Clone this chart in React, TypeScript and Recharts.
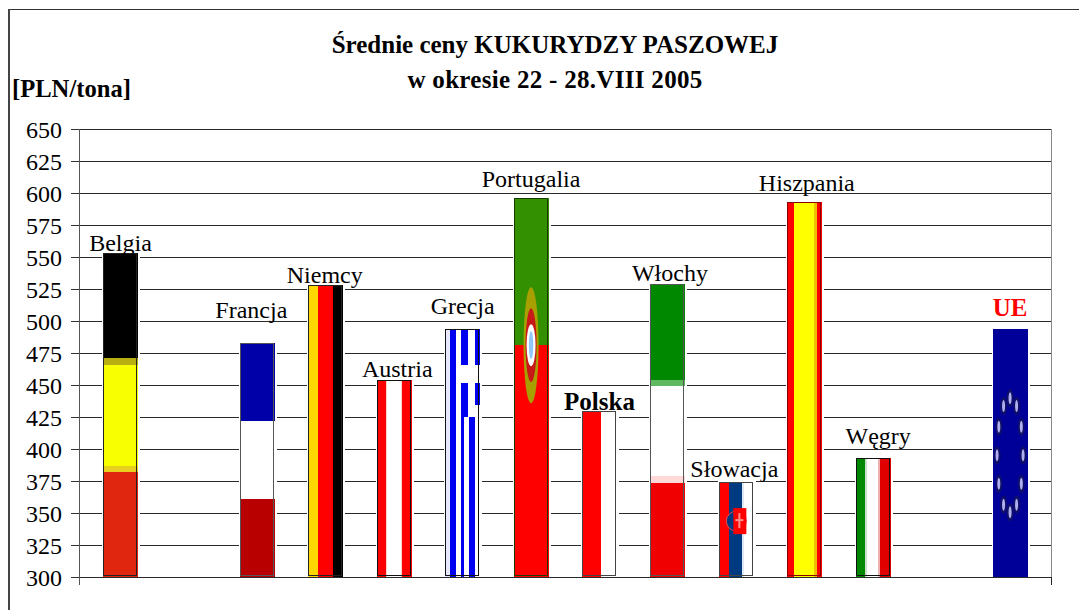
import React from 'react'
import { BarChart, Bar, XAxis, YAxis, CartesianGrid, LabelList, usePlotArea } from 'recharts'

const FONT = '"Liberation Serif", "Times New Roman", serif'

// empty strings keep the two gaps the original chart has (after Belgia, before UE)
const countries = ['Belgia', ' ', 'Francja', 'Niemcy', 'Austria', 'Grecja', 'Portugalia', 'Polska', 'Włochy', 'Słowacja', 'Hiszpania', 'Węgry', '  ', 'UE']
const prices = [553, null, 483, 528, 454, 494, 596, 430, 529, 374, 593, 393, null, 494]
const yTicks = [300, 325, 350, 375, 400, 425, 450, 475, 500, 525, 550, 575, 600, 625, 650]

const data = countries.map((name, i) => ({ name, price: prices[i] }))

// flag look per country: direction of the stripes, then [colour, where the stripe ends]
const flags: Record<string, any> = {
  Belgia: { dir: 'h', outline: '#222', bands: [['#000', 0.324], ['#b8b010', 0.346], ['#f8ff00', 0.657], ['#e8d020', 0.676], ['#e0260f', 1]] },
  Francja: { dir: 'h', outline: '#555', bands: [['#0000a8', 0.336], ['#fff', 0.668], ['#b80000', 1]] },
  Niemcy: { dir: 'v', outline: '#222', bands: [['#ffd700', 0.29], ['#ff0000', 0.72], ['#000', 1]] },
  Austria: { dir: 'v', outline: '#111', bands: [['#ff0000', 0.27], ['#ffd0d0', 0.3], ['#fff', 0.68], ['#ffd0d0', 0.71], ['#ff0000', 1]] },
  Grecja: { dir: 'v', outline: '#111', bands: [['#e8e8ff', 0.14], ['#0000f0', 0.31], ['#fff', 0.46], ['#0000f0', 0.66], ['#fff', 0.86], ['#0000f0', 1]] },
  Portugalia: { dir: 'h', outline: '#1a3a00', bands: [['#339000', 0.388], ['#ff0000', 1]] },
  Polska: { dir: 'v', outline: '#444', bands: [['#ff0000', 0.55], ['#fff', 1]] },
  'Włochy': { dir: 'h', outline: '#555', bands: [['#008800', 0.329], ['#60b860', 0.349], ['#fff', 0.655], ['#ffd8d8', 0.68], ['#f00000', 1]] },
  'Słowacja': { dir: 'v', outline: '#444', bands: [['#ff0000', 0.3], ['#003a80', 0.66], ['#dfe8f4', 0.72], ['#fff', 1]] },
  Hiszpania: { dir: 'v', outline: '#8a0000', bands: [['#ff0000', 0.2], ['#ffff00', 0.76], ['#f0c000', 0.86], ['#ff0000', 1]] },
  'Węgry': { dir: 'v', outline: '#111', bands: [['#008800', 0.27], ['#c8e0c8', 0.33], ['#fff', 0.65], ['#f0b0b0', 0.69], ['#e00000', 1]] },
  UE: { dir: 'h', bands: [['#000099', 1]] },
}

// labels were placed by hand in the original, so each has its own nudge
const labelNudge: Record<string, [number, number]> = {
  Belgia: [0, 2],
  Francja: [-6, -21],
  Niemcy: [-1, 2],
  Austria: [3, 1],
  Grecja: [0, -11],
  Portugalia: [0, -7],
  Polska: [0, 3],
  'Włochy': [2, 1],
  'Słowacja': [-2, -1],
  Hiszpania: [2, -7],
  'Węgry': [5, -10],
  UE: [0, -9],
}

function GreekCross({ x, y, w, h }: any) {
  const rx = x + w * 0.45
  const rw = w * 0.55
  return (
    <g>
      <rect x={rx} y={y + h * 0.145} width={rw} height={h * 0.075} fill="#fff" />
      <rect x={x + w * 0.66} y={y + h * 0.306} width={w * 0.34} height={h * 0.05} fill="#fff" />
      <rect x={rx} y={y + h * 0.355} width={rw} height={h * 0.645} fill="#fff" />
      <rect x={rx} y={y + h * 0.355} width={w * 0.1} height={h * 0.645} fill="#0000f0" />
      <rect x={x + w * 0.67} y={y + h * 0.355} width={w * 0.17} height={h * 0.645} fill="#0000f0" />
    </g>
  )
}

function PortugalShield({ x, y, w, h }: any) {
  const cx = x + w * 0.5
  const cy = y + h * 0.388
  return (
    <g shapeRendering="geometricPrecision">
      <ellipse cx={cx} cy={cy} rx={7.5} ry={58} fill="#a8a000" />
      <ellipse cx={cx} cy={cy} rx={5.5} ry={37} fill="#c81818" />
      <ellipse cx={cx} cy={cy} rx={4.5} ry={21} fill="#fff" />
      <ellipse cx={cx} cy={cy} rx={2.2} ry={14} fill="#90c8ff" />
    </g>
  )
}

function SlovakShield({ x, y, w, h }: any) {
  const cx = x + w * 0.5
  const cy = y + h * 0.41
  return (
    <g shapeRendering="geometricPrecision">
      <circle cx={cx} cy={cy} r={10} fill="#003a80" stroke="#e85050" strokeWidth={1} />
      <rect x={cx - 3} y={cy - 13} width={13} height={26} fill="#ff0000" />
      <rect x={cx + 2} y={cy - 8} width={2} height={15} fill="#ff9090" />
      <rect x={cx - 1} y={cy - 2} width={8} height={2} fill="#ff9090" />
    </g>
  )
}

function EuStars({ x, y, w, h }: any) {
  const cx = x + w * 0.5
  const cy = y + h * 0.51
  return (
    <g shapeRendering="geometricPrecision">
      {Array.from({ length: 12 }, (_, i) => {
        const a = (i * Math.PI) / 6
        const sx = cx + 13 * Math.sin(a)
        const sy = cy - 57 * Math.cos(a)
        return (
          <g key={i}>
            <ellipse cx={sx} cy={sy} rx={3.5} ry={9} fill="#101068" />
            <ellipse cx={sx} cy={sy} rx={1.5} ry={6} fill="#b0b0f0" />
          </g>
        )
      })}
    </g>
  )
}

const extras: Record<string, any> = {
  Grecja: GreekCross,
  Portugalia: PortugalShield,
  'Słowacja': SlovakShield,
  UE: EuStars,
}

function FlagBar(props: any) {
  const { x, y, width: w, height: h, payload } = props
  const flag = flags[payload?.name]
  if (!flag || !h) return null
  const Extra = extras[payload.name]
  let start = 0
  return (
    <g>
      <rect x={x - 1} y={y - 1} width={w + 3} height={h} fill="#fff" />
      {flag.bands.map(([color, end]: [string, number]) => {
        const r =
          flag.dir === 'h'
            ? { x, y: y + h * start, width: w, height: h * (end - start) }
            : { x: x + w * start, y, width: w * (end - start), height: h }
        start = end
        return <rect key={color + end} {...r} fill={color} />
      })}
      {Extra && <Extra x={x} y={y} w={w} h={h} />}
      {flag.outline && (
        <rect x={x + 0.5} y={y + 0.5} width={w - 2} height={h - 2} fill="none" stroke={flag.outline} strokeWidth={1} />
      )}
    </g>
  )
}

function CountryLabel(props: any) {
  const { x, y, width, value } = props
  const nudge = labelNudge[value]
  if (!nudge) return null
  const bold = value === 'UE' || value === 'Polska'
  return (
    <text
      x={x + width / 2 + nudge[0]}
      y={y + nudge[1] - 4}
      textAnchor="middle"
      fontFamily={FONT}
      fontSize={bold ? 25 : 24}
      fontWeight={bold ? 700 : 400}
      fill={value === 'UE' ? '#ff0000' : '#000'}
    >
      {value}
    </text>
  )
}

// frame, axis end ticks, right border and titles, which have no series of their own
function Decor() {
  const plot = usePlotArea()
  if (!plot) return null
  const { x, y, width, height } = plot
  const bottom = y + height
  const right = x + width
  return (
    <g>
      <line x1={1} y1={1} x2={1079} y2={1} stroke="#333" strokeWidth={1} />
      <line x1={1} y1={1} x2={1} y2={602} stroke="#444" strokeWidth={2} />
      <line x1={x} y1={y} x2={x} y2={bottom + 8} stroke="#555" />
      <line x1={right} y1={y} x2={right} y2={bottom} stroke="#888" />
      <line x1={right} y1={bottom} x2={right} y2={bottom + 8} stroke="#222" />
      <text x={547} y={45} textAnchor="middle" fontFamily={FONT} fontWeight={700} fontSize={25} fill="#000">
        Średnie ceny KUKURYDZY PASZOWEJ
      </text>
      <text x={547} y={80} textAnchor="middle" fontFamily={FONT} fontWeight={700} fontSize={25} letterSpacing={0.3} fill="#000">
        w okresie 22 - 28.VIII 2005
      </text>
      <text x={4} y={89} fontFamily={FONT} fontWeight={700} fontSize={24.6} fill="#000">
        [PLN/tona]
      </text>
    </g>
  )
}

export default function App() {
  return (
    <BarChart
      width={1079}
      height={602}
      data={data}
      margin={{ top: 121, right: 36, left: 0, bottom: 33 }}
      barSize={35}
      style={{ background: '#fff', shapeRendering: 'crispEdges' }}
    >
      <CartesianGrid vertical={false} stroke="#2a2a2a" syncWithTicks />
      <XAxis dataKey="name" tick={false} tickLine={false} height={0} padding={{ left: 7, right: 7 }} axisLine={{ stroke: '#333' }} interval={0} />
      <YAxis
        domain={[300, 650]}
        ticks={yTicks}
        interval={0}
        width={71}
        tickSize={8}
        tickMargin={9}
        tickLine={{ stroke: '#333' }}
        axisLine={{ stroke: '#555' }}
        tick={{ fontFamily: FONT, fontSize: 24, fill: '#000' }}
      />
      <Bar dataKey="price" shape={FlagBar} isAnimationActive={false}>
        <LabelList dataKey="name" content={CountryLabel} />
      </Bar>
      <Decor />
    </BarChart>
  )
}
